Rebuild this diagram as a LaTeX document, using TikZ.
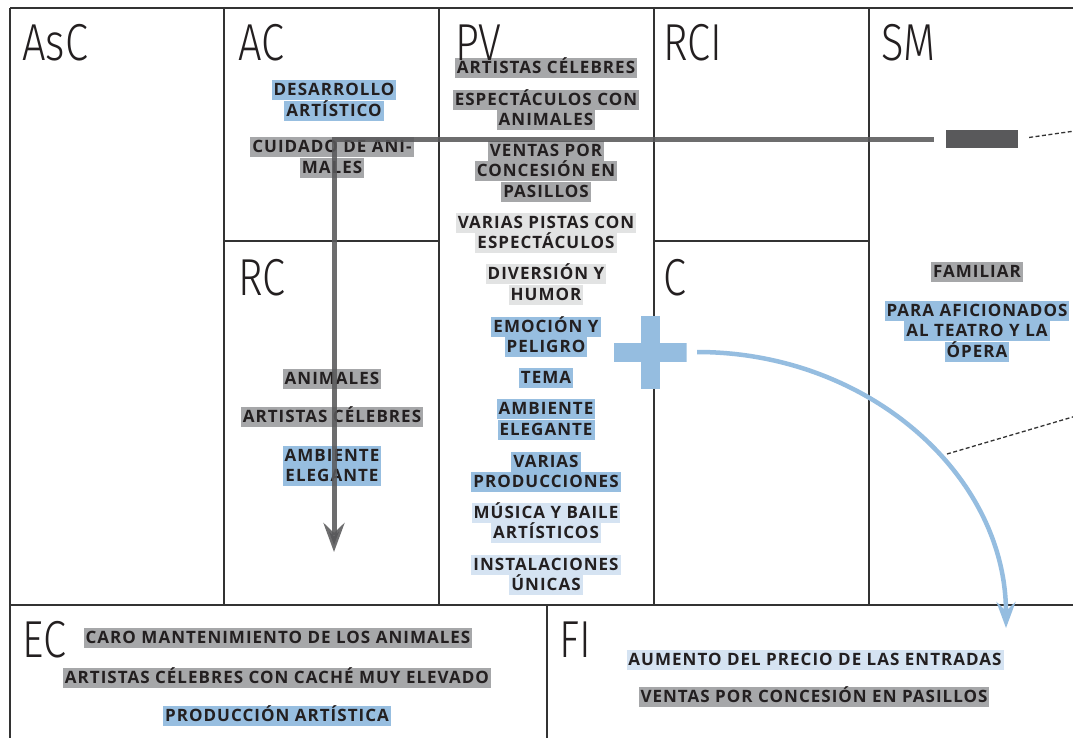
\documentclass[tikz,border=0pt]{standalone}
\usepackage{fontspec}
\usetikzlibrary{arrows.meta}
\newfontfamily\bodyfont{Open Sans}[LetterSpace=6]
\newfontfamily\titlefont{Fira Sans Light}[FakeStretch=0.8]
\definecolor{hgray}{HTML}{A6A7A9}
\definecolor{hlgray}{HTML}{E2E3E3}
\definecolor{hblue}{HTML}{97BEE0}
\definecolor{hlblue}{HTML}{D5E3F2}
\definecolor{framec}{HTML}{333333}
\definecolor{arrowgray}{HTML}{59595B}
\definecolor{txt}{HTML}{231F20}
\definecolor{curveblue}{HTML}{95BDE0}
\tikzset{
  gridline/.style={draw=framec, line width=1.5pt},
  hlbox/.style={inner xsep=2pt, inner ysep=0pt, text height=16pt, text depth=4.5pt,
    font=\bodyfont\bfseries\fontsize{17}{20}\selectfont, text=txt},
  title/.style={anchor=base west, inner sep=0pt, text=txt, font=\titlefont\fontsize{52}{52}\selectfont},
  darkarrow/.style={draw=arrowgray, line width=5pt, draw opacity=0.88,
    -{Stealth[length=29pt, width=21pt, inset=10pt]}},
  bluearrow/.style={draw=curveblue, line width=4.5pt,
    -{Stealth[length=26pt, width=19pt, inset=9pt]}},
  dashline/.style={draw=framec, line width=1.3pt, dash pattern=on 4pt off 2.5pt},
}
\newcommand\hl[5]{\node[hlbox,fill=#1] (#2) at (#3,#4) {#5};}
\begin{document}
\begin{tikzpicture}[x=1pt,y=-1pt]
\clip (0,0) rectangle (1073,737);
\fill[white] (0,0) rectangle (1073,737);
% grid
\draw[gridline] (10,8) -- (1090,8);
\draw[gridline] (10,8) -- (10,745);
\draw[gridline] (224,8) -- (224,605);
\draw[gridline] (439,8) -- (439,605);
\draw[gridline] (654,8) -- (654,605);
\draw[gridline] (869,8) -- (869,605);
\draw[gridline] (10,605) -- (1090,605);
\draw[gridline] (547,605) -- (547,745);
\draw[gridline] (224,241) -- (439,241);
\draw[gridline] (654,241) -- (869,241);
% highlighted items
\hl{hblue}{ac1a}{334}{90}{DESARROLLO}
\hl{hblue}{ac1b}{334}{111}{ARTÍSTICO}
\hl{hgray}{ac2a}{332}{147}{CUIDADO DE ANI-}
\hl{hgray}{ac2b}{332}{168}{MALES}
\hl{hgray}{pv1}{546}{68}{ARTISTAS CÉLEBRES}
\hl{hgray}{pv2a}{546}{100}{ESPECTÁCULOS CON}
\hl{hgray}{pv2b}{546}{120}{ANIMALES}
\hl{hgray}{pv3a}{546}{151}{VENTAS POR}
\hl{hgray}{pv3b}{546}{171}{CONCESIÓN EN}
\hl{hgray}{pv3c}{546}{192}{PASILLOS}
\hl{hlgray}{pv4a}{546}{223}{VARIAS PISTAS CON}
\hl{hlgray}{pv4b}{546}{243}{ESPECTÁCULOS}
\hl{hlgray}{pv5a}{546}{274}{DIVERSIÓN Y}
\hl{hlgray}{pv5b}{546}{295}{HUMOR}
\hl{hblue}{pv6a}{546}{327}{EMOCIÓN Y}
\hl{hblue}{pv6b}{546}{347}{PELIGRO}
\hl{hblue}{pv7}{546}{378}{TEMA}
\hl{hblue}{pv8a}{546}{409}{AMBIENTE}
\hl{hblue}{pv8b}{546}{430}{ELEGANTE}
\hl{hblue}{pv9a}{546}{462}{VARIAS}
\hl{hblue}{pv9b}{546}{482}{PRODUCCIONES}
\hl{hlblue}{pv10a}{546}{513}{MÚSICA Y BAILE}
\hl{hlblue}{pv10b}{546}{533}{ARTÍSTICOS}
\hl{hlblue}{pv11a}{546}{565}{INSTALACIONES}
\hl{hlblue}{pv11b}{546}{585}{ÚNICAS}
\hl{hgray}{rc1}{332}{379}{ANIMALES}
\hl{hgray}{rc2}{332}{417}{ARTISTAS CÉLEBRES}
\hl{hblue}{rc3a}{332}{456}{AMBIENTE}
\hl{hblue}{rc3b}{332}{476}{ELEGANTE}
\hl{hgray}{sm1}{977}{272}{FAMILIAR}
\hl{hblue}{sm2a}{977}{311}{PARA AFICIONADOS}
\hl{hblue}{sm2b}{977}{331}{AL TEATRO Y LA}
\hl{hblue}{sm2c}{977}{352}{ÓPERA}
\hl{hgray}{ec1}{278}{638}{CARO MANTENIMIENTO DE LOS ANIMALES}
\hl{hgray}{ec2}{277}{678}{ARTISTAS CÉLEBRES CON CACHÉ MUY ELEVADO}
\hl{hblue}{ec3}{277}{716}{PRODUCCIÓN ARTÍSTICA}
\hl{hlblue}{fi1}{815}{660}{AUMENTO DEL PRECIO DE LAS ENTRADAS}
\hl{hgray}{fi2}{814}{697}{VENTAS POR CONCESIÓN EN PASILLOS}
% titles
\node[title] (tAsC) at (22,60) {AsC};
\node[title] (tAC) at (238,60) {AC};
\node[title] (tPV) at (455,60) {PV};
\node[title] (tRCI) at (663,60) {RCI};
\node[title] (tSM) at (881,60) {SM};
\node[title] (tRC) at (238,295) {RC};
\node[title] (tC) at (663,295) {C};
\node[title] (tEC) at (22,657) {EC};
\node[title] (tFI) at (559,657) {FI};
% minus and plus symbols
\node[fill=arrowgray, inner sep=0pt, minimum width=72pt, minimum height=18pt] (minus) at (982,139) {};
\node[inner sep=0pt, minimum width=73pt, minimum height=73pt,
  path picture={\fill[curveblue] (path picture bounding box.center) ++(-36.5,-9.5) rectangle ++(73,19);
                \fill[curveblue] (path picture bounding box.center) ++(-9.5,-36.5) rectangle ++(19,73);}] (plus) at (650,352) {};
% connectors
\coordinate (corner) at (334,139);
\coordinate (rcend) at (334,552);
\draw[darkarrow, line join=miter, shorten <=12pt] (minus.west) -- (corner) -- (rcend);
\coordinate (fiend) at (1006,628);
\draw[bluearrow, shorten <=10.5pt] (plus.east) .. controls (868,352) and (1006,475) .. (fiend);
\coordinate (dash1end) at (1110,126);
\draw[dashline, shorten <=11pt] (minus.east) -- (dash1end);
\coordinate (dash2start) at (947,454);
\coordinate (dash2end) at (1110,406);
\draw[dashline] (dash2start) -- (dash2end);
\end{tikzpicture}
\end{document}
